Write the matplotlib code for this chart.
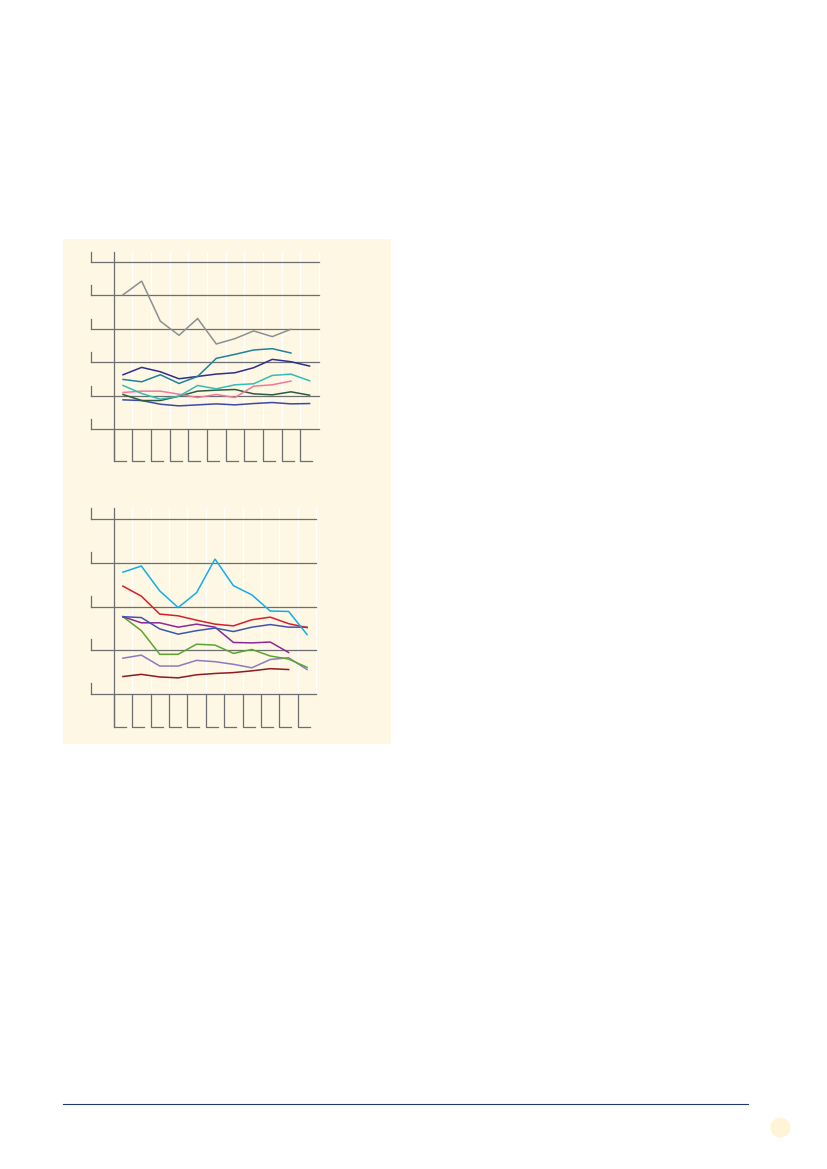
import numpy as np
import matplotlib
matplotlib.use("Agg")
import matplotlib.pyplot as plt
from matplotlib.patches import Rectangle, Circle

# data (in grid units)
n_cat = 11
top_gray = [4.02, 4.43, 3.23, 2.81, 3.31, 2.55, 2.71, 2.94, 2.77, 2.99]
top_teal = [1.49, 1.42, 1.63, 1.37, 1.58, 2.12, 2.24, 2.37, 2.41, 2.28]
top_navy = [1.63, 1.85, 1.72, 1.51, 1.58, 1.65, 1.69, 1.84, 2.09, 2.02, 1.89]
top_turq = [1.31, 1.07, 0.90, 0.99, 1.31, 1.21, 1.33, 1.36, 1.61, 1.65, 1.45]
top_pink = [1.10, 1.14, 1.14, 1.05, 0.95, 1.04, 0.95, 1.29, 1.33, 1.44]
top_green = [1.04, 0.86, 0.86, 0.99, 1.14, 1.17, 1.19, 1.06, 1.03, 1.12, 1.02]
top_blue = [0.88, 0.86, 0.75, 0.70, 0.73, 0.76, 0.73, 0.77, 0.80, 0.76, 0.77]

bot_cyan = [2.79, 2.93, 2.36, 1.98, 2.32, 3.09, 2.48, 2.27, 1.90, 1.89, 1.36]
bot_red = [2.47, 2.24, 1.83, 1.79, 1.69, 1.60, 1.56, 1.70, 1.76, 1.61, 1.52]
bot_blue = [1.77, 1.75, 1.49, 1.37, 1.45, 1.51, 1.43, 1.53, 1.59, 1.53, 1.53]
bot_purple = [1.77, 1.63, 1.63, 1.53, 1.60, 1.53, 1.18, 1.17, 1.19, 0.95]
bot_green = [1.77, 1.45, 0.91, 0.91, 1.14, 1.12, 0.93, 1.02, 0.87, 0.80, 0.61]
bot_lav = [0.82, 0.89, 0.64, 0.64, 0.77, 0.74, 0.68, 0.60, 0.79, 0.83, 0.56]
bot_darkred = [0.40, 0.45, 0.39, 0.37, 0.44, 0.47, 0.49, 0.53, 0.58, 0.56]

top_series = [
    (top_blue, "#3b4aa8"), (top_green, "#2f5a3c"), (top_pink, "#f0789b"),
    (top_turq, "#33bdb5"), (top_navy, "#2e2e8f"), (top_teal, "#1f8299"),
    (top_gray, "#8c8f94"),
]
bot_series = [
    (bot_darkred, "#8e1b20"), (bot_lav, "#8c7bbf"), (bot_green, "#5aa630"),
    (bot_purple, "#8b2a96"), (bot_blue, "#3e55b0"), (bot_red, "#d4202a"),
    (bot_cyan, "#12aee8"),
]

W, H = 827, 1169
GRID = "#6d6e71"
CREAM = "#fef7e3"

fig = plt.figure(figsize=(W / 100, H / 100), dpi=100)
fig.patch.set_facecolor("white")


def px_rect(x0, y0, x1, y1):
    # pixel box (top-left origin) -> figure fraction
    return [x0 / W, 1 - y1 / H, (x1 - x0) / W, (y1 - y0) / H]


# cream panel, footer rule, page dot
bg = fig.add_axes([0, 0, 1, 1])
bg.set_xlim(0, W)
bg.set_ylim(H, 0)
bg.axis("off")
bg.add_patch(Rectangle((63, 239), 327.5, 505, color=CREAM, lw=0))
bg.plot([62.5, 748], [1103.5, 1103.5], color="#1e3a6e", lw=0.8)
bg.add_patch(Circle((780.5, 1127.5), 10, color="#fff5d6", lw=0))


def draw_chart(rect, n_grid, series, left_x, spine_top, tick_h, foot_y):
    ax = fig.add_axes(rect)
    ax.set_xlim(0, n_cat)
    ax.set_ylim(0, n_grid)
    ax.axis("off")
    ax.patch.set_alpha(0)
    # white category separators
    for i in range(1, n_cat + 1):
        ax.plot([i, i], [0, spine_top], color="white", lw=0.9, zorder=1,
                clip_on=False)
    # horizontal gridlines with small left ticks
    for g in range(n_grid + 1):
        ax.plot([left_x, n_cat], [g, g], color=GRID, lw=0.9, zorder=2,
                clip_on=False)
        ax.plot([left_x, left_x], [g, g + tick_h], color=GRID, lw=0.9,
                zorder=2, clip_on=False)
    # y spine
    ax.plot([0, 0], [foot_y, spine_top], color=GRID, lw=0.9, zorder=2,
            clip_on=False)
    # category brackets below the axis
    for i in range(n_cat):
        ax.plot([i, i, i + 0.65], [0, foot_y, foot_y], color=GRID, lw=0.9,
                zorder=2, clip_on=False)
    xs = np.arange(n_cat) + 0.5
    for vals, col in series:
        ax.plot(xs[:len(vals)], vals, color=col, lw=1.1, zorder=3,
                solid_joinstyle="miter", clip_on=False)
    return ax


# top chart: x 113.7..318.9 px, y0 at 429.3, y5 at 262
draw_chart(px_rect(113.7, 262.0, 318.9, 429.3), 5, top_series,
           left_x=-1.22, spine_top=5.3, tick_h=0.3, foot_y=-0.95)
# bottom chart: x 113.7..316.3 px, y0 at 694, y4 at 519.3
draw_chart(px_rect(113.7, 519.3, 316.3, 694.0), 4, bot_series,
           left_x=-1.24, spine_top=4.25, tick_h=0.25, foot_y=-0.75)

fig.savefig("out.png", dpi=100)
